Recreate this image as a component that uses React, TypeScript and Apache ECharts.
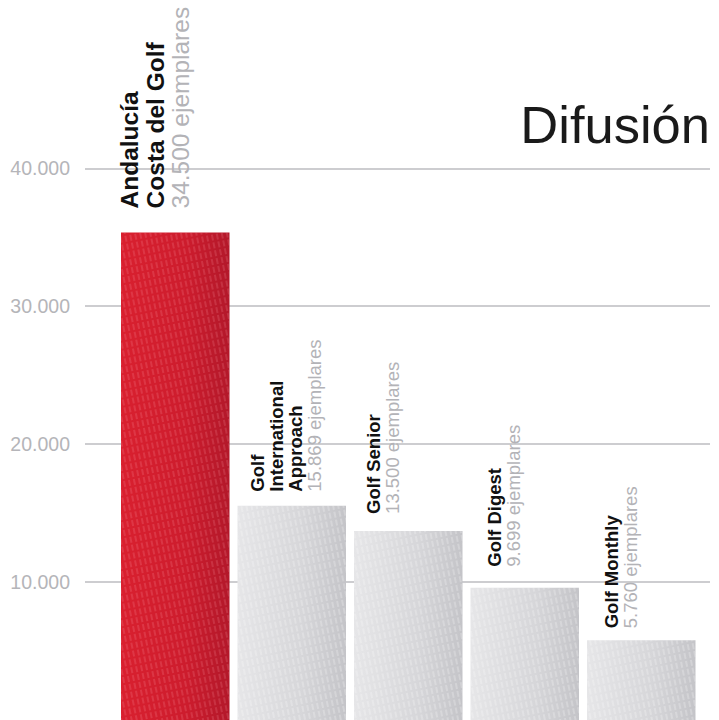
import React, { useEffect, useRef } from "react";
import * as echarts from "echarts";

// ---- data ----
const titleText = "Difusión";
const publications = [
  ["Andalucía", "Costa del Golf"],
  ["Golf", "International", "Approach"],
  ["Golf Senior"],
  ["Golf Digest"],
  ["Golf Monthly"],
];
const categories = ["Andalucía Costa del Golf", "Golf International Approach", "Golf Senior", "Golf Digest", "Golf Monthly"];
// printed circulation figures (labels)
const circulation = [34500, 15869, 13500, 9699, 5760];
// bar heights as drawn in the picture
const barHeights = [35350, 15540, 13710, 9590, 5780];
const yTicks = [0, 10000, 20000, 30000, 40000];
const unitText = "ejemplares";

const fmt = (v: number) => String(v).replace(/\B(?=(\d{3})+(?!\d))/g, ".");

// ---- styles ----
const FONT = "'Liberation Sans', Arial, Helvetica, sans-serif";
const labelAnchors: [number, number][] = [
  [-4, -24],
  [11, -14],
  [10, -17],
  [15, -21],
  [15, -12],
];

export default function App() {
  const ref = useRef<HTMLDivElement>(null);
  useEffect(() => {
    if (!ref.current) return;
    const chart = echarts.init(ref.current, null, { renderer: "svg" });
    const top = 168.3;
    const height = 553.4;
    const redFill = new echarts.graphic.LinearGradient(0, 0, 1, 0, [
      { offset: 0, color: "#d9202f" },
      { offset: 0.6, color: "#cd1c2d" },
      { offset: 1, color: "#b3182a" },
    ]);
    const grayFill = new echarts.graphic.LinearGradient(0, 0, 1, 0, [
      { offset: 0, color: "#e6e6e8" },
      { offset: 0.6, color: "#d6d6d9" },
      { offset: 1, color: "#c4c4c8" },
    ]);
    const data = barHeights.map((v, i) => {
      const big = i === 0;
      const nameStyle = big ? "N" : "n";
      const valStyle = big ? "V" : "v";
      const lines = publications[i].map((l) => `{${nameStyle}|${l}}`);
      lines.push(`{${valStyle}|${fmt(circulation[i])} ${unitText}}`);
      return {
        value: v,
        itemStyle: {
          color: big ? redFill : grayFill,
          decal: {
            symbol: "rect",
            color: big ? "rgba(255,160,170,0.18)" : "rgba(255,255,255,0.22)",
            dashArrayX: [1.5, 2.5],
            dashArrayY: [6, 2],
            rotation: -0.2,
            symbolSize: 1,
          },
        },
        label: {
          show: true,
          position: labelAnchors[i],
          rotate: 90,
          align: "left",
          verticalAlign: "top",
          formatter: lines.join("\n"),
        },
      };
    });
    chart.setOption({
      animation: false,
      grid: [
        { left: 117, width: 582.5, top, height },
        { left: 85, width: 625, top, height },
      ],
      title: {
        text: titleText,
        right: 9,
        top: 98,
        padding: 0,
        textStyle: { fontFamily: FONT, fontSize: 52.5, fontWeight: "normal", color: "#1a1a1a" },
      },
      xAxis: [
        { type: "category", gridIndex: 0, data: categories, show: false },
        { type: "category", gridIndex: 1, data: categories, show: false },
      ],
      yAxis: [
        { type: "value", gridIndex: 0, min: 0, max: 40000, show: false, splitLine: { show: false } },
        {
          type: "value",
          gridIndex: 1,
          min: yTicks[0],
          max: yTicks[yTicks.length - 1],
          interval: yTicks[1] - yTicks[0],
          axisLine: { show: false },
          axisTick: { show: false },
          axisLabel: {
            showMinLabel: false,
            margin: 15,
            fontFamily: FONT,
            fontSize: 19.5,
            color: "#b5b5b9",
            formatter: (v: number) => fmt(v),
          },
          splitLine: { showMinLine: false, lineStyle: { color: "#bdbdc1", width: 1.5 } },
        },
      ],
      series: [
        {
          type: "bar",
          xAxisIndex: 0,
          yAxisIndex: 0,
          barWidth: 108.5,
          data,
          label: {
            rich: {
              N: { fontFamily: FONT, fontSize: 24.5, fontWeight: "bold", color: "#111111", lineHeight: 25.5 },
              V: { fontFamily: FONT, fontSize: 24.5, color: "#b3b3b7", lineHeight: 25.5 },
              n: { fontFamily: FONT, fontSize: 18.5, fontWeight: "bold", color: "#111111", lineHeight: 18.8 },
              v: { fontFamily: FONT, fontSize: 18.5, color: "#b3b3b7", lineHeight: 18.8 },
            },
          },
        },
      ],
    });
    return () => chart.dispose();
  }, []);
  return (
    <div
      ref={ref}
      style={{ position: "fixed", left: 0, top: 0, width: 719, height: 720, background: "#ffffff" }}
    />
  );
}
